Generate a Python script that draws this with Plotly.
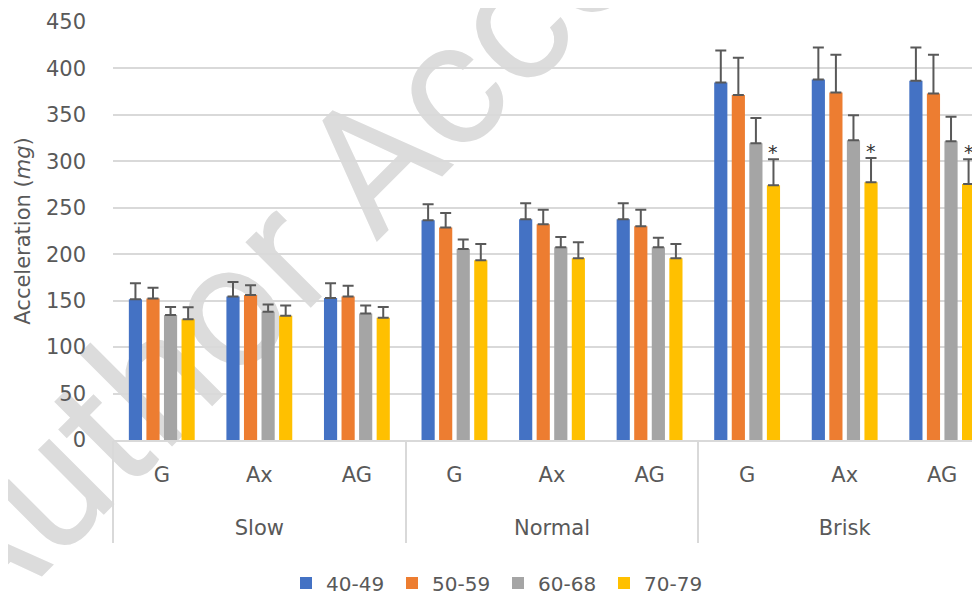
import plotly.graph_objects as go

speeds = ["Slow", "Normal", "Brisk"]
sensors = ["G", "Ax", "AG", "G", "Ax", "AG", "G", "Ax", "AG"]
positions = [0, 1, 2, 3, 4, 5, 6, 7, 8]
speed_centres = [1, 4, 7]
speed_bounds = [-0.5, 2.5, 5.5, 8.5]

age_groups = ["40-49", "50-59", "60-68", "70-79"]
mean_40_49 = [151.6, 154.5, 153.0, 236.6, 237.6, 237.6, 385.0, 388.2, 386.7]
sd_40_49 = [17.2, 15.5, 15.8, 17.2, 17.2, 17.2, 34.4, 34.4, 35.9]
mean_50_59 = [152.3, 156.0, 154.5, 228.7, 232.3, 230.0, 371.3, 374.2, 373.1]
sd_50_59 = [11.7, 10.7, 11.5, 15.7, 15.7, 18.0, 40.2, 40.5, 41.6]
mean_60_68 = [134.7, 138.0, 136.2, 205.7, 207.5, 207.5, 319.4, 322.6, 321.5]
sd_60_68 = [8.6, 8.0, 8.6, 10.1, 11.1, 10.1, 27.2, 26.9, 26.5]
mean_70_79 = [130.0, 133.7, 131.5, 193.5, 195.7, 195.7, 274.2, 277.4, 275.6]
sd_70_79 = [13.0, 11.1, 11.8, 17.6, 17.2, 15.4, 28.0, 26.2, 26.6]

significant_70_79 = [6, 7, 8]  # indices marked with *

colors = ["#4472C4", "#ED7D31", "#A5A5A5", "#FFC000"]
means = [mean_40_49, mean_50_59, mean_60_68, mean_70_79]
sds = [sd_40_49, sd_50_59, sd_60_68, sd_70_79]

FONT = "DejaVu Sans"
TXT = "#595959"
GRID = "#d9d9d9"

fig = go.Figure()
for name, m, s, c in zip(age_groups, means, sds, colors):
    fig.add_trace(go.Bar(
        name=name, x=positions, y=m,
        marker=dict(color=c, line=dict(width=0)),
        error_y=dict(type="data", array=s, arrayminus=[0] * len(s), symmetric=False,
                     color="#595959", thickness=2, width=5.5),
    ))

# page body has an 8px margin: figure is sized so that it fills the 980x595 window
OFF = 8
W, H = 980 - OFF, 595 - OFF
L, R, T, B = 113 - OFF, 0, 22 - OFF, 595 - 440
pw, ph = W - L - R, H - T - B
XRANGE = [-0.5, 8.387]

def px2paper(px, py):
    """screen pixel -> paper coordinates"""
    return (px - OFF - L) / pw, (H - B - (py - OFF)) / ph

# watermark (drawn beneath the chart)
x0, y0 = px2paper(-4, 665)
x1, y1 = px2paper(-4 + 100, 665 - 100)
fig.add_shape(type="line", xref="paper", yref="paper", x0=x0, y0=y0, x1=x1, y1=y1,
              line=dict(color="rgba(0,0,0,0)", width=0), layer="below",
              label=dict(text="Author Accepted Manuscript", textangle=-45, padding=0,
                         textposition="start", xanchor="left", yanchor="bottom",
                         font=dict(family="Roboto", size=175, color="#dcdcdc")))

bargap = 0.28
slot = pw / (XRANGE[1] - XRANGE[0]) * (1 - bargap) / 4
for i in significant_70_79:
    fig.add_annotation(x=positions[i], y=mean_70_79[i] + sd_70_79[i], xref="x", yref="y",
                       text="*", showarrow=False, xshift=1.5 * slot, yshift=-6,
                       yanchor="bottom", font=dict(family=FONT, size=19, color="#333333"))

fig.update_layout(
    width=W, height=H,
    margin=dict(l=L, r=R, t=T, b=B, autoexpand=False),
    paper_bgcolor="white", plot_bgcolor="white",
    barmode="group", bargap=bargap, bargroupgap=0.25,
    font=dict(family=FONT, color=TXT),
    legend=dict(orientation="h", x=px2paper(286, 0)[0], xanchor="left",
                y=px2paper(0, 583)[1], yanchor="middle",
                font=dict(family=FONT, size=20, color=TXT),
                entrywidth=61, entrywidthmode="pixels",
                bgcolor="rgba(0,0,0,0)"),
    xaxis=dict(range=XRANGE, tickmode="array", tickvals=positions, ticktext=sensors,
               showline=True, linecolor=GRID, linewidth=1.5, automargin=False,
               tickfont=dict(family=FONT, size=21, color=TXT),
               ticks="", showgrid=False, zeroline=False, ticklabelstandoff=15),
    xaxis2=dict(range=XRANGE, overlaying="x", anchor="y", side="bottom",
                tickmode="array", tickvals=speed_centres, ticktext=speeds,
                showline=False, showgrid=False, zeroline=False, automargin=False,
                tickfont=dict(family=FONT, size=21, color=TXT),
                ticks="", ticklabelstandoff=73,
                minor=dict(tickmode="array", tickvals=speed_bounds, ticks="outside",
                           ticklen=102, tickwidth=1.5, tickcolor=GRID, showgrid=False)),
    yaxis=dict(range=[0, 450], dtick=50, showgrid=True, gridcolor=GRID, gridwidth=1.5,
               zeroline=False, showline=False, ticks="", automargin=False,
               tickfont=dict(family=FONT, size=21, color=TXT), ticklabelstandoff=26,
               title=dict(text="Acceleration (<i>mg</i>)", standoff=9,
                          font=dict(family=FONT, size=21, color=TXT))),
)

# invisible trace to activate the second x axis (speed labels and dividers)
fig.add_trace(go.Scatter(x=speed_centres, y=[0, 0, 0], xaxis="x2", yaxis="y",
                         mode="markers", marker=dict(opacity=0), showlegend=False,
                         hoverinfo="skip"))

fig.write_html("out.html")
